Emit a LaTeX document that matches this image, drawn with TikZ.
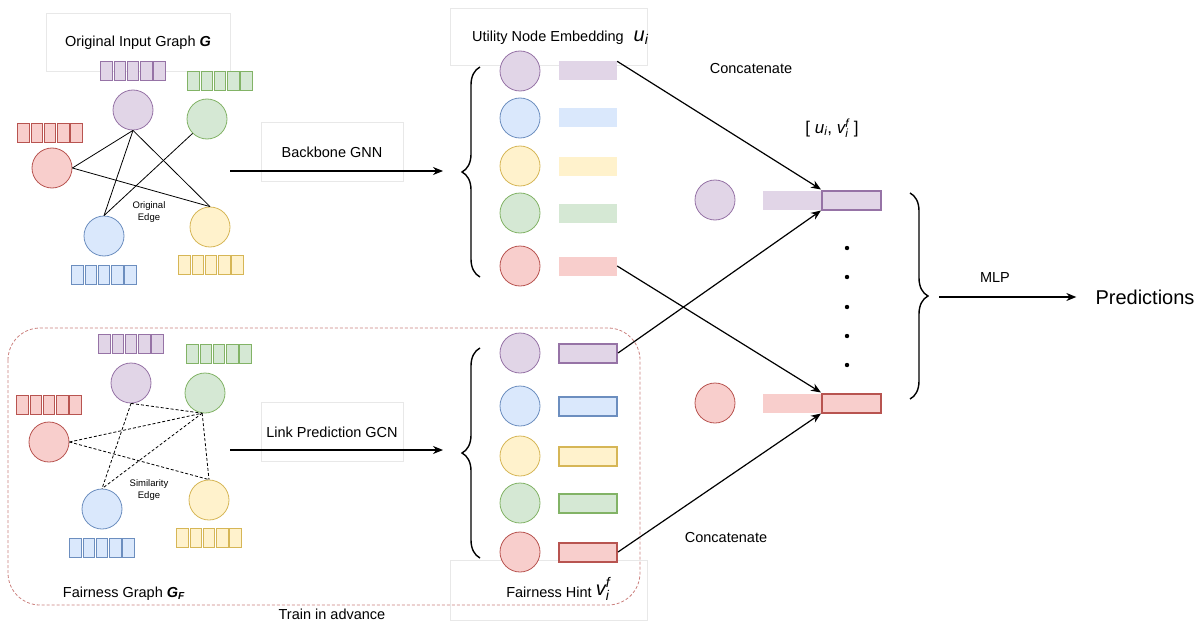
\documentclass[tikz,border=0pt]{standalone}
\usepackage{fontspec}
\setmainfont{Liberation Sans}
\usetikzlibrary{positioning,arrows.meta,decorations.pathreplacing}

\definecolor{pufill}{HTML}{E1D5E7}
\definecolor{puline}{HTML}{9673A6}
\definecolor{blfill}{HTML}{DAE8FC}
\definecolor{blline}{HTML}{6C8EBF}
\definecolor{yefill}{HTML}{FFF2CC}
\definecolor{yeline}{HTML}{D6B656}
\definecolor{grfill}{HTML}{D5E8D4}
\definecolor{grline}{HTML}{82B366}
\definecolor{refill}{HTML}{F8CECC}
\definecolor{reline}{HTML}{B85450}

% a row of five small feature cells
\newcommand{\featvec}[4]{%
    \foreach \k in {0,...,4}
        \node[cell, draw=#4line, fill=#4fill] (#1-\k) at ({#2+13.2*(\k-2)}, #3) {};
}

\begin{document}
\begin{tikzpicture}[
        x=1pt, y=-1pt,
        ball/.style={
            circle,
            minimum size=40pt,
            inner sep=0pt,
            line width=0.8pt
        },
        cell/.style={rectangle, minimum width=11.5pt, minimum height=19pt, inner sep=0pt, line width=0.9pt},
        bar/.style={rectangle, minimum width=58pt, minimum height=19pt, inner sep=0pt},
        frame/.style={rectangle, draw=black!9, line width=0.6pt, inner sep=0pt},
        lbl/.style={font=\fontsize{14.5}{17}\selectfont, align=center},
        tiny/.style={font=\fontsize{9.5}{12.5}\selectfont, align=center},
        edge/.style={line width=0.8pt},
        simedge/.style={edge, dashed, dash pattern=on 3pt off 2pt},
        arrow/.style={-{Stealth[length=10pt,width=8pt]}, line width=1.2pt},
        curly/.style={decorate, decoration={brace, amplitude=18pt}, line width=1.4pt}
    ]
    \useasboundingbox (0,0) rectangle (1201,623);

    % original input graph
    \node[frame, minimum width=184pt, minimum height=58pt] (ogbox) at (138,42) {};
    \node[lbl] (ogtitle) at (138,43) {Original Input Graph \textbf{\textit{G}}};

    \node[ball, draw=puline, fill=pufill] (opu) at (133,110) {};
    \node[ball, draw=grline, fill=grfill] (ogr) at (207,119) {};
    \node[ball, draw=reline, fill=refill] (ore) at (52,168) {};
    \node[ball, draw=blline, fill=blfill] (obl) at (104,236) {};
    \node[ball, draw=yeline, fill=yefill] (oye) at (210,227) {};

    \featvec{ovpu}{133}{71}{pu}
    \featvec{ovgr}{220}{81}{gr}
    \featvec{ovre}{50}{133}{re}
    \featvec{ovbl}{104}{275}{bl}
    \featvec{ovye}{211}{265}{ye}

    \draw[edge] (opu.south) -- (ore.east);
    \draw[edge] (opu.south) -- (obl.north);
    \draw[edge] (opu.south) -- (oye.north);
    \draw[edge] (ogr.south west) -- (obl.north);
    \draw[edge] (ore.east) -- (oye.north);
    \node[tiny] (oedge) at (149,212) {Original\\Edge};

    % fairness graph
    \draw[dashed, dash pattern=on 3pt off 2pt, draw=reline!75, line width=0.8pt, rounded corners=32pt]
        (8,328) rectangle (640,605);

    \node[ball, draw=puline, fill=pufill] (fpu) at (131,383) {};
    \node[ball, draw=grline, fill=grfill] (fgr) at (205,393) {};
    \node[ball, draw=reline, fill=refill] (fre) at (49,442) {};
    \node[ball, draw=blline, fill=blfill] (fbl) at (102,509) {};
    \node[ball, draw=yeline, fill=yefill] (fye) at (209,500) {};

    \featvec{fvpu}{131}{344}{pu}
    \featvec{fvgr}{219}{354}{gr}
    \featvec{fvre}{49}{405}{re}
    \featvec{fvbl}{102}{548}{bl}
    \featvec{fvye}{209}{538}{ye}

    \draw[simedge] (fpu.south) -- (fgr.262);
    \draw[simedge] (fpu.south) -- (fbl.north);
    \draw[simedge] (fre.east) -- (fgr.262);
    \draw[simedge] (fre.east) -- (fye.north);
    \draw[simedge] (fgr.262) -- (fye.north);
    \draw[simedge] (fgr.262) -- (fbl.north);
    \node[tiny] (sedge) at (149,490) {Similarity\\Edge};

    \node[lbl] (fgtitle) at (124,594) {Fairness Graph \textbf{\textit{G}}\textsubscript{\textbf{\textit{F}}}};
    \node[lbl] (train) at (332,614) {Train in advance};

    % the two GNNs
    \node[frame, minimum width=142pt, minimum height=59pt] (bbbox) at (332,151.5) {};
    \node[lbl] (bbtext) at (332,152) {Backbone GNN};
    \node[frame, minimum width=142pt, minimum height=59pt] (lpbox) at (332,431.5) {};
    \node[lbl] (lptext) at (332,432) {Link Prediction GCN};

    \coordinate (bbin) at (230,171);
    \coordinate (bbout) at (443,171);
    \coordinate (lpin) at (230,450);
    \coordinate (lpout) at (443,450);
    \draw[arrow] (bbin) -- (bbout);
    \draw[arrow] (lpin) -- (lpout);

    % utility node embeddings
    \node[frame, minimum width=197pt, minimum height=57pt] (ubox) at (548.5,36.5) {};
    \node[lbl] (utext) at (548,38) {Utility Node Embedding};
    \node[font=\fontsize{20}{20}\selectfont, inner sep=1pt] (usym) at (641,38) {$\mathit{u}_{\mathit{i}}$};

    \foreach \col/\y [count=\i] in {pu/71, bl/118, ye/166, gr/213, re/266} {
        \node[ball, draw=\col line, fill=\col fill] (uc\i) at (520,\y) {};
        \node[bar, fill=\col fill] (ub\i) at (588,\y) {};
    }
    \draw[curly] (480,277) -- (480,67);

    % fairness hints
    \node[frame, minimum width=197pt, minimum height=60pt] (hbox) at (548.5,590) {};
    \node[lbl] (htext) at (549,592) {Fairness Hint};
    \node[font=\fontsize{20}{20}\selectfont, inner sep=1pt] (hsym) at (603,589) {$\mathit{v}_{\mathit{i}}^{\mathit{f}}$};

    \foreach \col/\y [count=\i] in {pu/353, bl/406, ye/456, gr/503, re/552} {
        \node[ball, draw=\col line, fill=\col fill] (hc\i) at (520,\y) {};
        \node[bar, draw=\col line, fill=\col fill, line width=2pt] (hb\i) at (588,\y) {};
    }
    \draw[curly] (480,558) -- (480,348);

    % concatenation
    \node[lbl] (cattop) at (751,69) {Concatenate};
    \node[lbl] (catbot) at (726,538) {Concatenate};
    \node[font=\fontsize{17}{20}\selectfont] (pair) at (832,128)
        {[ $\mathit{u}_{\mathit{i}}$, $\mathit{v}_{\mathit{i}}^{\mathit{f}}$ ]};

    \node[ball, draw=puline, fill=pufill] (cpc) at (715,200) {};
    \node[bar, minimum width=59pt, fill=pufill] (cp1) at (792.5,200) {};
    \node[bar, minimum width=59pt, draw=puline, fill=pufill, line width=2pt] (cp2) at (851.5,200) {};
    \node[ball, draw=reline, fill=refill] (crc) at (715,403) {};
    \node[bar, minimum width=59pt, fill=refill] (cr1) at (792.5,403) {};
    \node[bar, minimum width=59pt, draw=reline, fill=refill, line width=2pt] (cr2) at (851.5,403) {};

    \foreach \y in {248,277,307,336,365}
        \fill (847,\y) circle (2.2pt);

    \draw[arrow] (ub1.north east) -- (cp2.north west);
    \draw[arrow] (ub5.east) -- (cr2.north west);
    \draw[arrow] (hb1.east) -- (cp2.south west);
    \draw[arrow] (hb5.east) -- (cr2.south west);

    % output
    \draw[curly] (910,193) -- (910,399);
    \coordinate (mlpin) at (939,297);
    \node[font=\fontsize{20}{24}\selectfont, inner sep=0pt] (pred) at (1145,297) {Predictions};
    \node[lbl] (mlp) at (995,278) {MLP};
    \draw[arrow, shorten >=19pt] (mlpin) -- (pred.west);

\end{tikzpicture}
\end{document}
